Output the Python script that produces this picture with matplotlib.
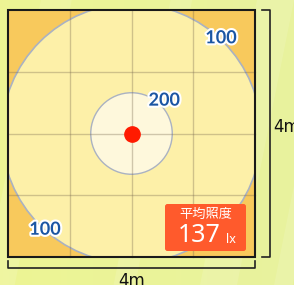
import matplotlib.pyplot as plt
import matplotlib.patches as mpatches
import matplotlib.patheffects as pe
import numpy as np

# room and illuminance data
room_size = 4.0          # m
grid_n = 4
lamp_xy = (2.0, 2.0)
contour_levels = [100, 200]
contour_radii = [2.10, 0.66]   # m
label_pos = [(3.45, 3.55), (2.53, 2.54), (0.6, 0.45)]
label_text = ['100', '200', '100']
avg_lux = 137

px = 61.75  # pixels per metre
fig = plt.figure(figsize=(2.94, 2.85), dpi=100)
ax = fig.add_axes([0, 0, 1, 1])
ax.set_xlim(-8 / px, 4 + 39 / px)
ax.set_ylim(-28 / px, 4 + 10 / px)
ax.axis('off')

# background gradient with faint rays
g = np.linspace(0, 1, 200)
bg = np.zeros((10, 200, 3))
c1 = np.array([0.93, 0.96, 0.58])
c2 = np.array([0.91, 0.95, 0.62])
for i in range(3):
    bg[:, :, i] = c1[i] + (c2[i] - c1[i]) * g
ax.imshow(bg, extent=[-8 / px, 4 + 39 / px, -28 / px, 4 + 10 / px], aspect='auto', zorder=0)
for x0, w in [(-0.5, 0.5), (1.6, 0.35), (3.0, 0.6), (4.2, 0.3)]:
    ax.add_patch(mpatches.Polygon([[x0, -1], [x0 + w, -1], [x0 + w + 1.2, 5], [x0 + 1.2, 5]],
                                  closed=True, fc='white', ec='none', alpha=0.12, zorder=0.5))

# room
room = mpatches.Rectangle((0, 0), room_size, room_size, fc='#f8c95c', ec='none', zorder=1)
ax.add_patch(room)
outer = mpatches.Circle(lamp_xy, contour_radii[0], fc='#fdf0a8', ec='#aab2c2', lw=1.2, zorder=2)
ax.add_patch(outer)
outer.set_clip_path(room)
inner = mpatches.Circle(lamp_xy, contour_radii[1], fc='#fef8dc', ec='#aab2c2', lw=1.0, zorder=3)
ax.add_patch(inner)

# grid
for k in range(1, grid_n):
    v = room_size * k / grid_n
    ax.plot([v, v], [0, room_size], color='#7a6a50', alpha=0.35, lw=1, zorder=4)
    ax.plot([0, room_size], [v, v], color='#7a6a50', alpha=0.35, lw=1, zorder=4)
ax.add_patch(mpatches.Rectangle((0, 0), room_size, room_size, fc='none', ec='#1a1a1a', lw=1.5, zorder=6))

# lamp
ax.plot(*lamp_xy, 'o', color='#ff1a00', ms=11, zorder=5)

# contour labels
for (x, y), t in zip(label_pos, label_text):
    ax.text(x, y, t, color='#1b56a3', fontsize=13, fontweight='bold', family='Lato',
            ha='center', va='center', zorder=7,
            path_effects=[pe.withStroke(linewidth=3, foreground='white')])

# average box
bx0, by0 = 157 / px, 4 + 10 / px - 251 / px
bw, bh = 81 / px, 47 / px
ax.add_patch(mpatches.FancyBboxPatch((bx0, by0), bw, bh, boxstyle='round,pad=0,rounding_size=0.04',
                                     fc='#ff5a2c', ec='none', zorder=8))
ax.text(bx0 + bw / 2, by0 + bh * 0.78, '平均照度', color='white', fontsize=9.5,
        family=['Noto Sans CJK JP', 'DejaVu Sans'], ha='center', va='center', zorder=9)
ax.text(bx0 + bw * 0.42, by0 + bh * 0.32, str(avg_lux), color='white', fontsize=18,
        family='Noto Sans', ha='center', va='center', zorder=9)
ax.text(bx0 + bw * 0.82, by0 + bh * 0.25, 'lx', color='white', fontsize=9,
        family='Noto Sans', ha='center', va='center', zorder=9)

# dimension brackets
xr = 4 + 15 / px
ax.plot([xr - 8 / px, xr, xr, xr - 8 / px], [room_size, room_size, 0, 0], color='#222', lw=1.2, zorder=6)
ax.text(xr + 3 / px, 2.1, '4m', fontsize=12, ha='left', va='center', color='#111')
yb = -11 / px
ax.plot([0, 0, room_size, room_size], [yb + 7 / px, yb, yb, yb + 7 / px], color='#222', lw=1.2, zorder=6)
ax.text(2.0, -15 / px, '4m', fontsize=12, ha='center', va='top', color='#111')

fig.savefig('out.png', dpi=100)
